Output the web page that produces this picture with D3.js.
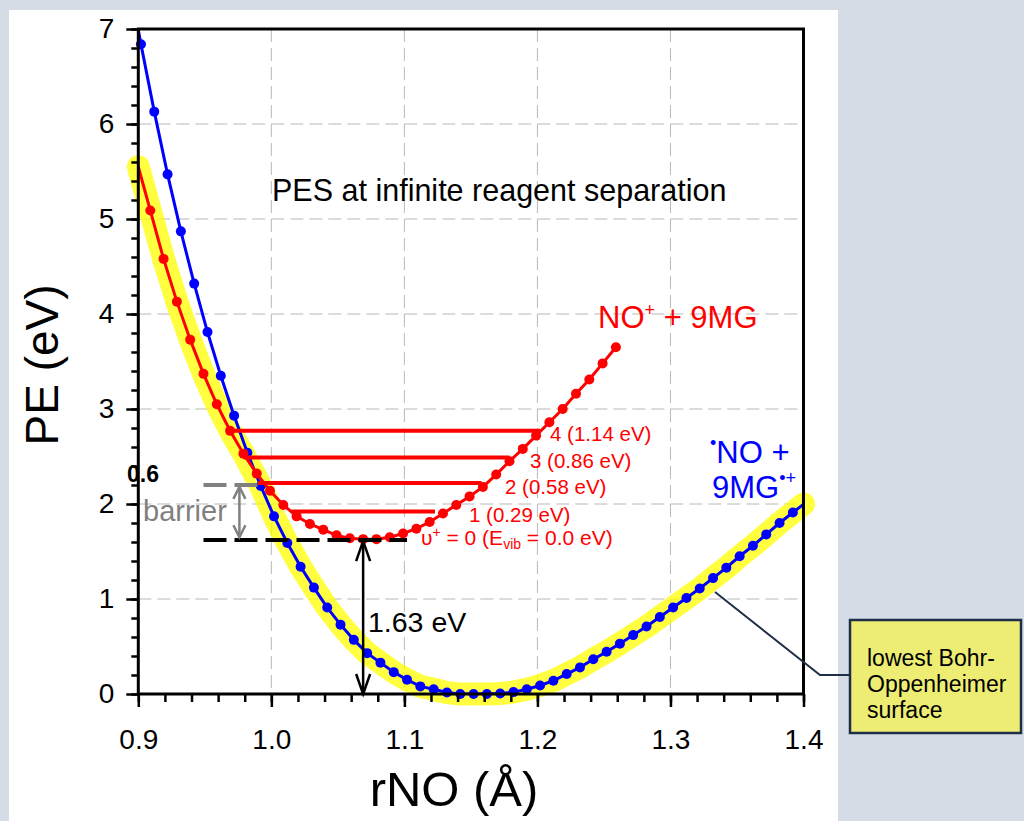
<!DOCTYPE html>
<html><head><meta charset="utf-8">
<script src="https://cdn.jsdelivr.net/npm/d3@7"></script>
<style>
body{margin:0;background:#d5dce6;}
svg{display:block;}
text{font-family:"Liberation Sans",Arial,sans-serif;}
</style>
</head><body>
<svg id="c" width="1024" height="821"></svg>
<script>
// ---- data ----
const blueX = [0.892,0.902,0.912,0.922,0.932,0.942,0.952,0.962,0.972,0.982,0.992,1.002,1.012,1.022,1.032,1.042,1.052,1.062,1.072,1.082,1.092,1.102,1.112,1.122,1.132,1.142,1.152,1.162,1.172,1.182,1.192,1.202,1.212,1.222,1.232,1.242,1.252,1.262,1.272,1.282,1.292,1.302,1.312,1.322,1.332,1.342,1.352,1.362,1.372,1.382,1.392,1.402];
const blueY = [7.60,6.84,6.13,5.47,4.87,4.32,3.81,3.35,2.93,2.54,2.19,1.87,1.59,1.34,1.12,0.91,0.73,0.57,0.43,0.33,0.23,0.15,0.08,0.05,0.015,0.0,0.0,0.0,0.005,0.02,0.05,0.09,0.14,0.21,0.28,0.365,0.445,0.53,0.62,0.71,0.81,0.91,1.01,1.11,1.22,1.33,1.45,1.56,1.68,1.80,1.91,2.02];
const redX = [0.899,0.909,0.919,0.929,0.939,0.949,0.959,0.969,0.979,0.989,0.999,1.009,1.019,1.029,1.039,1.049,1.059,1.069,1.079,1.089,1.099,1.109,1.119,1.129,1.139,1.149,1.159,1.169,1.179,1.189,1.199,1.209,1.219,1.229,1.239,1.249,1.259];
const redY = [5.60,5.09,4.58,4.13,3.73,3.37,3.05,2.77,2.53,2.32,2.14,1.99,1.87,1.79,1.73,1.67,1.64,1.63,1.63,1.65,1.69,1.74,1.81,1.90,1.99,2.08,2.18,2.31,2.45,2.58,2.72,2.86,3.00,3.16,3.31,3.48,3.65];
// lowest surface end points (highlight)
const lowStart = [0.9, 5.55];
const lowEnd = [1.4, 2.0];
const crossX = 0.985;
// vibrational levels
const levelE = [2.77, 2.49, 2.22, 1.92];
const levelX0 = [0.968, 0.979, 0.990, 1.015];
const levelX1 = [1.202, 1.179, 1.158, 1.123];
const levelLabels = ["4 (1.14 eV)", "3 (0.86 eV)", "2 (0.58 eV)", "1 (0.29 eV)"];
const groundE = 1.62, groundX0 = 0.949, groundX1 = 1.102;
const barrierE = 2.2, barrierX1 = 0.992;
const barrierArrowX = 0.976;
const depthArrowX = 1.069;
const xTicks = [0.9,1.0,1.1,1.2,1.3,1.4];
const yTicks = [0,1,2,3,4,5,6,7];
const xMinor = d3.range(0.9, 1.4001, 0.02);
const yMinor = d3.range(0, 7.001, 0.2);
const xGrid = [1.0,1.1,1.2,1.3];
const yGrid = [1,2,3,4,5,6];

// ---- drawing ----
const svg = d3.select("#c");
const L = 138.3, R = 803.5, T = 29, B = 694;
const x = d3.scaleLinear([0.9, 1.4], [L, R]);
const y = d3.scaleLinear([0, 7], [B, T]);

svg.append("rect").attr("x", 9).attr("y", 10).attr("width", 829).attr("height", 811).attr("fill", "#fff");

svg.append("clipPath").attr("id", "pc").append("rect")
  .attr("x", L).attr("y", T).attr("width", R - L).attr("height", B - T);

// gridlines
const grid = svg.append("g").attr("stroke", "#b8b8b8").attr("stroke-width", 1).attr("stroke-dasharray", "13,6");
grid.selectAll("line.gy").data(yGrid).join("line").attr("x1", L).attr("x2", R).attr("y1", d => y(d)).attr("y2", d => y(d));
grid.selectAll("line.gx").data(xGrid).join("line").attr("y1", T).attr("y2", B).attr("x1", d => x(d)).attr("x2", d => x(d));

// highlight of lowest surface
const lowPts = [lowStart]
  .concat(redX.map((v, i) => [v, redY[i]]).filter(p => p[0] >= 0.9 && p[0] < crossX))
  .concat(blueX.map((v, i) => [v, blueY[i]]).filter(p => p[0] > crossX && p[0] <= 1.4))
  .concat([lowEnd]);
const line = d3.line().x(d => x(d[0])).y(d => y(d[1]));
svg.append("path").attr("d", line(lowPts)).attr("fill", "none")
  .attr("stroke", "#ffff00").attr("stroke-opacity", 0.75).attr("stroke-width", 23)
  .attr("stroke-linecap", "round").attr("stroke-linejoin", "round");

// series
function series(xs, ys, color) {
  const pts = xs.map((v, i) => [v, ys[i]]);
  svg.append("path").attr("d", line(pts)).attr("fill", "none").attr("stroke", color)
    .attr("stroke-width", 3).attr("clip-path", "url(#pc)");
  svg.append("g").selectAll("circle").data(pts.filter(p => p[0] >= 0.9 && p[0] <= 1.4 && p[1] <= 7))
    .join("circle").attr("cx", d => x(d[0])).attr("cy", d => y(d[1])).attr("r", 5).attr("fill", color);
}
series(blueX, blueY, "#0000ff");
series(redX, redY, "#ff0000");

// vibrational level lines
svg.append("g").selectAll("line").data(levelE).join("line")
  .attr("x1", (d, i) => x(levelX0[i])).attr("x2", (d, i) => x(levelX1[i]))
  .attr("y1", d => y(d)).attr("y2", d => y(d)).attr("stroke", "#ff0000").attr("stroke-width", 4);
const lblPos = [[550, 441], [530, 468], [505, 494], [469, 522]];
svg.append("g").selectAll("text").data(levelLabels).join("text")
  .attr("x", (d, i) => lblPos[i][0]).attr("y", (d, i) => lblPos[i][1])
  .attr("fill", "#ff0000").attr("font-size", 20.5).text(d => d);
const g0 = svg.append("text").attr("x", 421).attr("y", 545).attr("fill", "#ff0000").attr("font-size", 21);
g0.append("tspan").text("υ");
g0.append("tspan").attr("font-size", 14).attr("dy", -8).text("+");
g0.append("tspan").attr("dy", 8).text(" = 0 (E");
g0.append("tspan").attr("font-size", 14).attr("dy", 4).text("vib");
g0.append("tspan").attr("dy", -4).text(" = 0.0 eV)");

// ground level and barrier dashed lines
svg.append("line").attr("x1", x(groundX0)).attr("x2", x(groundX1)).attr("y1", y(groundE)).attr("y2", y(groundE))
  .attr("stroke", "#000").attr("stroke-width", 4).attr("stroke-dasharray", "23,8");
svg.append("line").attr("x1", x(groundX0)).attr("x2", x(barrierX1)).attr("y1", y(barrierE)).attr("y2", y(barrierE))
  .attr("stroke", "#808080").attr("stroke-width", 4).attr("stroke-dasharray", "23,8");

function dblArrow(xv, y0, y1, color, w, hl, hw) {
  const g = svg.append("g").attr("stroke", color).attr("stroke-width", w).attr("fill", "none");
  const X = x(xv), Y0 = y(y0), Y1 = y(y1);
  g.append("line").attr("x1", X).attr("x2", X).attr("y1", Y0).attr("y2", Y1);
  g.append("path").attr("d", `M${X - hw},${Y0 + hl}L${X},${Y0}L${X + hw},${Y0 + hl}`);
  g.append("path").attr("d", `M${X - hw},${Y1 - hl}L${X},${Y1}L${X + hw},${Y1 - hl}`);
}
dblArrow(barrierArrowX, barrierE - 0.02, groundE + 0.03, "#808080", 2.5, 12, 6);
dblArrow(depthArrowX, groundE - 0.01, 0.0, "#000", 2.5, 20, 7);

// axes
const ax = svg.append("g");
function drawAxes() {
  const gl = ax.append("g").attr("transform", `translate(${L},0)`)
    .call(d3.axisLeft(y).tickValues(yMinor).tickSize(7).tickFormat(""));
  gl.selectAll("line").attr("stroke-width", 2.5);
  const gl2 = ax.append("g").attr("transform", `translate(${L},0)`)
    .call(d3.axisLeft(y).tickValues(yTicks).tickSize(12).tickPadding(12).tickFormat(d3.format("d")));
  gl2.selectAll("line").attr("stroke-width", 2.5);
  gl2.selectAll("text").attr("font-size", 28).attr("font-family", "Liberation Sans, Arial, sans-serif").attr("fill", "#000");
  const gb = ax.append("g").attr("transform", `translate(0,${B})`)
    .call(d3.axisBottom(x).tickValues(xMinor).tickSize(8).tickFormat(""));
  gb.selectAll("line").attr("stroke-width", 2.5);
  const gb2 = ax.append("g").attr("transform", `translate(0,${B})`)
    .call(d3.axisBottom(x).tickValues(xTicks).tickSize(13).tickPadding(22).tickFormat(d3.format(".1f")));
  gb2.selectAll("line").attr("stroke-width", 2.5);
  gb2.selectAll("text").attr("font-size", 28).attr("font-family", "Liberation Sans, Arial, sans-serif").attr("fill", "#000");
  ax.selectAll(".domain").remove();
  ax.append("rect").attr("x", L).attr("y", T).attr("width", R - L).attr("height", B - T)
    .attr("fill", "none").attr("stroke", "#000").attr("stroke-width", 3);
}
drawAxes();

// annotations
svg.append("text").attr("x", 127).attr("y", 482).attr("font-family", "Liberation Serif, Times New Roman, serif")
  .attr("font-weight", "bold").attr("font-size", 23).text("0.6");
svg.append("text").attr("x", 143).attr("y", 521).attr("fill", "#808080").attr("font-size", 29).text("barrier");
svg.append("text").attr("x", 368).attr("y", 632).attr("fill", "#000").attr("font-size", 28.5).text("1.63 eV");
svg.append("text").attr("x", 272).attr("y", 201).attr("font-size", 30.5).text("PES at infinite reagent separation");

const tr = svg.append("text").attr("x", 598).attr("y", 328).attr("fill", "#ff0000").attr("font-size", 31);
tr.append("tspan").text("NO");
tr.append("tspan").attr("font-size", 18).attr("dy", -12).text("+");
tr.append("tspan").attr("dy", 12).text(" + 9MG");

const tb1 = svg.append("text").attr("x", 710).attr("y", 463).attr("fill", "#0000ff").attr("font-size", 31);
tb1.append("tspan").attr("font-size", 18).attr("dy", -14).text("•");
tb1.append("tspan").attr("dy", 14).text("NO +");
const tb2 = svg.append("text").attr("x", 712).attr("y", 498).attr("fill", "#0000ff").attr("font-size", 31);
tb2.append("tspan").text("9MG");
tb2.append("tspan").attr("font-size", 18).attr("dy", -14).text("•+");

// axis titles
svg.append("text").attr("transform", "translate(58,365) rotate(-90)").attr("text-anchor", "middle")
  .attr("font-size", 46).text("PE (eV)");
svg.append("text").attr("x", 454).attr("y", 806).attr("text-anchor", "middle")
  .attr("font-size", 49).text("rNO (Å)");

// callout
svg.append("path").attr("d", "M715,592L820,675L850,675").attr("fill", "none")
  .attr("stroke", "#1f2d48").attr("stroke-width", 2);
svg.append("rect").attr("x", 850).attr("y", 620).attr("width", 171).attr("height", 113)
  .attr("fill", "#eded74").attr("stroke", "#1f2d48").attr("stroke-width", 2.5);
const ct = svg.append("text").attr("font-size", 23).attr("fill", "#000");
[["lowest Bohr-", 666], ["Oppenheimer", 692], ["surface", 718]].forEach(d =>
  ct.append("tspan").attr("x", 867).attr("y", d[1]).text(d[0]));
</script>
</body></html>
